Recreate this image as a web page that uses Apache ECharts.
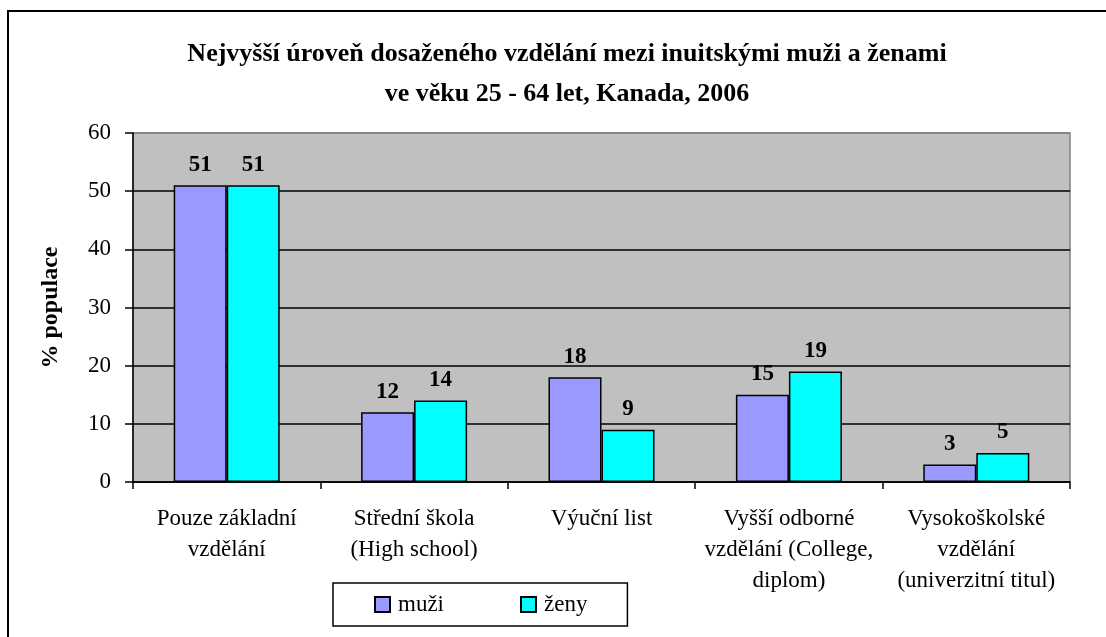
<!DOCTYPE html>
<html>
<head>
<meta charset="utf-8">
<script src="https://cdn.jsdelivr.net/npm/echarts@6/dist/echarts.min.js"></script>
<style>
    html, body { margin: 0; padding: 0; background: #fff; }
    #chart { width: 1106px; height: 637px; }
</style>
</head>
<body>
<div id="chart"></div>
<script>
// data
const categories = [
    'Pouze základní\nvzdělání',
    'Střední škola\n(High school)',
    'Výuční list',
    'Vyšší odborné\nvzdělání (College,\ndiplom)',
    'Vysokoškolské\nvzdělání\n(univerzitní titul)'
];
const muzi = [51, 12, 18, 15, 3];
const zeny = [51, 14, 9, 19, 5];
const yTicks = [0, 10, 20, 30, 40, 50, 60];

const serif = '"Liberation Serif", "Times New Roman", serif';

const chart = echarts.init(document.getElementById('chart'));

// spodní linie mřížky černé, horní okraj šedý
const splitColors = yTicks.map((v, i) => (i === yTicks.length - 1 ? '#808080' : '#000'));

const valueLabel = {
    show: true,
    position: 'top',
    distance: 9,
    fontFamily: serif,
    fontSize: 23,
    fontWeight: 'bold',
    color: '#000'
};

const option = {
    backgroundColor: '#fff',
    animation: false,
    textStyle: { fontFamily: serif, color: '#000' },
    title: {
        text: 'Nejvyšší úroveň dosaženého vzdělání mezi inuitskými muži a ženami\nve věku 25 - 64 let, Kanada, 2006',
        left: 562,
        top: 29,
        textAlign: 'center',
        textStyle: {
            fontFamily: serif,
            fontWeight: 'bold',
            fontSize: 26,
            lineHeight: 40,
            color: '#000'
        }
    },
    graphic: [{
        type: 'rect',
        silent: true,
        shape: { x: 8, y: 11, width: 1130, height: 660 },
        style: { fill: 'none', stroke: '#000', lineWidth: 2 }
    }],
    legend: {
        data: ['muži', 'ženy'],
        left: 333,
        top: 583,
        icon: 'rect',
        itemWidth: 15,
        itemHeight: 15,
        itemGap: 76,
        padding: [10, 40, 10, 41],
        borderColor: '#000',
        borderWidth: 1.5,
        textStyle: { fontFamily: serif, fontSize: 23, color: '#000', padding: [0, 0, 0, 3] }
    },
    grid: {
        left: 133,
        right: 36,
        top: 133,
        bottom: 155,
        show: true,
        backgroundColor: '#C0C0C0',
        borderColor: '#808080',
        borderWidth: 1.5
    },
    xAxis: {
        type: 'category',
        data: categories,
        axisLine: { lineStyle: { color: '#000', width: 1.5 } },
        axisTick: { show: true, inside: false, length: 7, lineStyle: { color: '#000', width: 1.5 } },
        axisLabel: {
            interval: 0,
            margin: 21,
            fontFamily: serif,
            fontSize: 23,
            lineHeight: 31,
            color: '#000'
        }
    },
    yAxis: {
        type: 'value',
        min: 0,
        max: 60,
        interval: 10,
        name: '% populace',
        nameLocation: 'middle',
        nameRotate: 90,
        nameGap: 70,
        nameTextStyle: { fontFamily: serif, fontSize: 24, fontWeight: 'bold', color: '#000' },
        axisLine: { show: true, lineStyle: { color: '#000', width: 1.5 } },
        axisTick: { show: true, inside: false, length: 8, lineStyle: { color: '#000', width: 1.5 } },
        axisLabel: { fontFamily: serif, fontSize: 23, color: '#000', margin: 22 },
        splitLine: { show: true, lineStyle: { color: splitColors, width: 1.5 } }
    },
    series: [
        {
            name: 'muži',
            type: 'bar',
            data: muzi,
            barWidth: 53,
            barGap: '0%',
            itemStyle: { color: '#9999FF', borderColor: '#000', borderWidth: 1.5 },
            label: valueLabel
        },
        {
            name: 'ženy',
            type: 'bar',
            data: zeny,
            barWidth: 53,
            barGap: '0%',
            itemStyle: { color: '#00FFFF', borderColor: '#000', borderWidth: 1.5 },
            label: valueLabel
        }
    ]
};

chart.setOption(option);
</script>
</body>
</html>
